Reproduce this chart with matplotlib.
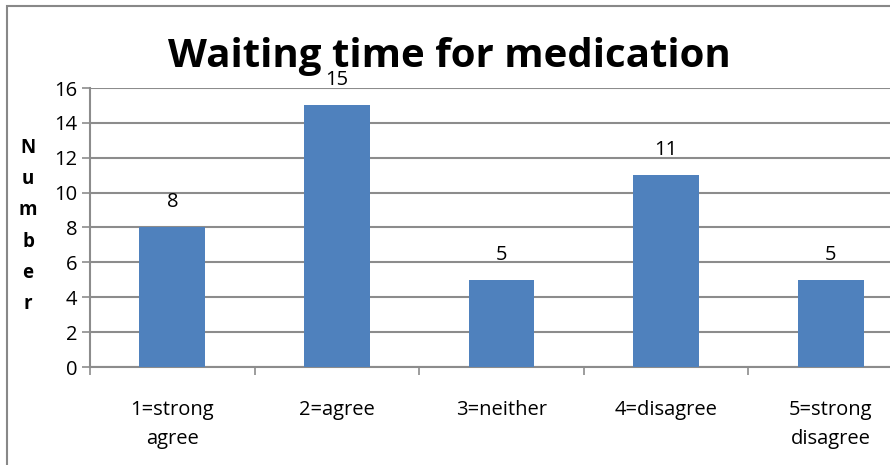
import matplotlib
matplotlib.use("Agg")
import matplotlib.pyplot as plt
from matplotlib.patches import Rectangle

categories = ["1=strong\nagree", "2=agree", "3=neither", "4=disagree", "5=strong\ndisagree"]
values = [8, 15, 5, 11, 5]
y_ticks = [0, 2, 4, 6, 8, 10, 12, 14, 16]
title = "Waiting time for medication"
y_label = "Number"

plt.rcParams["font.family"] = ["Open Sans", "DejaVu Sans"]

W, H = 890, 465
fig = plt.figure(figsize=(W / 100, H / 100), dpi=100)

# frame around the chart (right and bottom edges fall outside the canvas)
fig.patches.append(Rectangle((7 / W, -0.05), 1.1, (H - 6) / H + 0.05,
                             transform=fig.transFigure, fill=False,
                             edgecolor="#888888", linewidth=1.5))

# plot area runs past the right edge of the canvas
left, right, bottom, top = 90, 913, 367, 88
ax = fig.add_axes([left / W, (H - bottom) / H, (right - left) / W, (bottom - top) / H])

x = list(range(len(categories)))
ax.bar(x, values, width=0.4, color="#4F81BD", zorder=3)
ax.set_xlim(-0.5, len(categories) - 0.5)
ax.set_ylim(y_ticks[0], y_ticks[-1])

ax.set_yticks(y_ticks)
ax.set_yticklabels([str(t) for t in y_ticks], fontsize=14.5)
ax.yaxis.grid(True, color="#8c8c8c", linewidth=1.5, zorder=0)
ax.tick_params(axis="y", length=6, width=1.2, color="#8c8c8c", pad=3)

ax.set_xticks(x)
ax.set_xticklabels(categories, fontsize=14.5, linespacing=1.6)
ax.tick_params(axis="x", length=0, pad=24)
ax.set_xticks([i - 0.5 for i in range(len(categories) + 1)], minor=True)
ax.tick_params(axis="x", which="minor", length=6, width=1.2, color="#8c8c8c")

for s in ["top", "right"]:
    ax.spines[s].set_visible(False)
for s in ["left", "bottom"]:
    ax.spines[s].set_color("#8c8c8c")
    ax.spines[s].set_linewidth(1.5)

for xi, v in zip(x, values):
    ax.annotate(str(v), (xi, v), xytext=(0, 11), textcoords="offset points",
                ha="center", va="bottom", fontsize=14.5)

fig.text(449 / W, (H - 56) / H, title, ha="center", va="center",
         fontsize=29, fontweight="bold")

fig.text(28 / W, (H - 226) / H, "\n".join(y_label), ha="center", va="center",
         fontsize=13.5, fontweight="bold", linespacing=1.75)

fig.savefig("out.png", dpi=100)
